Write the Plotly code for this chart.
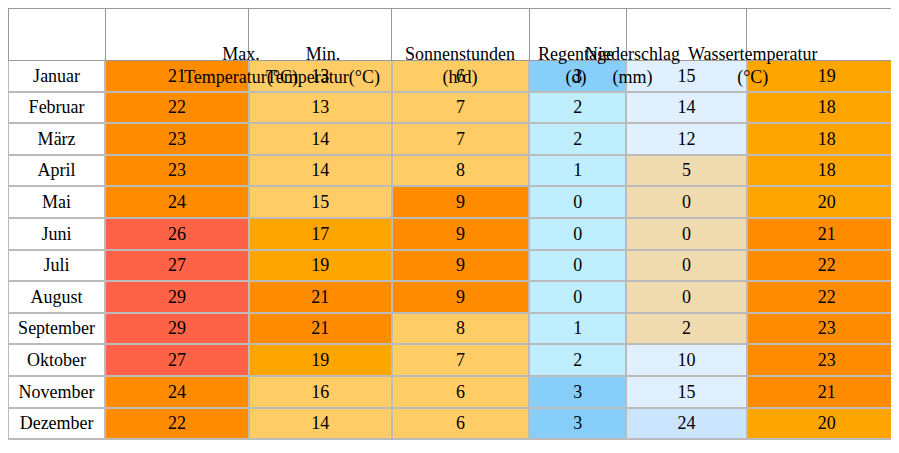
import plotly.graph_objects as go

months = ["Januar","Februar","März","April","Mai","Juni","Juli","August","September","Oktober","November","Dezember"]
headers = ["", "Max.<br>Temperatur(°C)", "Min.<br>Temperatur(°C)", "Sonnenstunden<br>(h/d)", "Regentage<br>(d)", "Niederschlag<br>(mm)", "Wassertemperatur<br>(°C)"]
tmax = [21,22,23,23,24,26,27,29,29,27,24,22]
tmin = [13,13,14,14,15,17,19,21,21,19,16,14]
sun = [6,7,7,8,9,9,9,9,8,7,6,6]
rain_days = [3,2,2,1,0,0,0,0,1,2,3,3]
precip = [15,14,12,5,0,0,0,0,2,10,15,24]
water = [19,18,18,18,20,21,22,22,23,23,21,20]

def c_tmax(v): return "#FF6347" if v >= 26 else "#FF8C00"
def c_tmin(v): return "#FF8C00" if v >= 21 else ("#FFA500" if v >= 17 else "#FFCC66")
def c_sun(v): return "#FF8C00" if v >= 9 else "#FFCC66"
def c_rd(v): return "#87CEFA" if v >= 3 else "#BFEFFF"
def c_pr(v): return "#CCE5FF" if v >= 20 else ("#E0F0FF" if v >= 10 else "#F0DAB0")
def c_w(v): return "#FF8C00" if v >= 21 else "#FFA500"

fills = [["white"]*12, [c_tmax(v) for v in tmax], [c_tmin(v) for v in tmin],
         [c_sun(v) for v in sun], [c_rd(v) for v in rain_days],
         [c_pr(v) for v in precip], [c_w(v) for v in water]]

W, H = 899, 453
widths = [97,143,143,137,97,120,160]
x0, avail = 8, 883
scale = avail / sum(widths)
hdr_h = 52
font = dict(family="Liberation Serif", size=18, color="black")

fig = go.Figure(go.Table(
    columnwidth=widths,
    header=dict(values=[""]*7, fill_color="white", line=dict(color="#999999", width=1),
                height=hdr_h, font=font),
    cells=dict(values=[months, tmax, tmin, sun, rain_days, precip, water], fill_color=fills,
               line=dict(color="#BBBBBB", width=2), align="center", height=31.6, font=font),
    domain=dict(x=[0,1], y=[0,1])))

cum = 0
for w, h in zip(widths, headers):
    cx = x0 + (cum + w/2) * scale
    cum += w
    if h:
        fig.add_annotation(x=cx/W, y=1-(8+hdr_h/2)/H, xref="paper", yref="paper",
                           text=h, showarrow=False, align="center", font=font)

fig.update_layout(width=W, height=H, margin=dict(l=0,r=0,t=0,b=0), paper_bgcolor="white")
fig.write_html("out.html")
